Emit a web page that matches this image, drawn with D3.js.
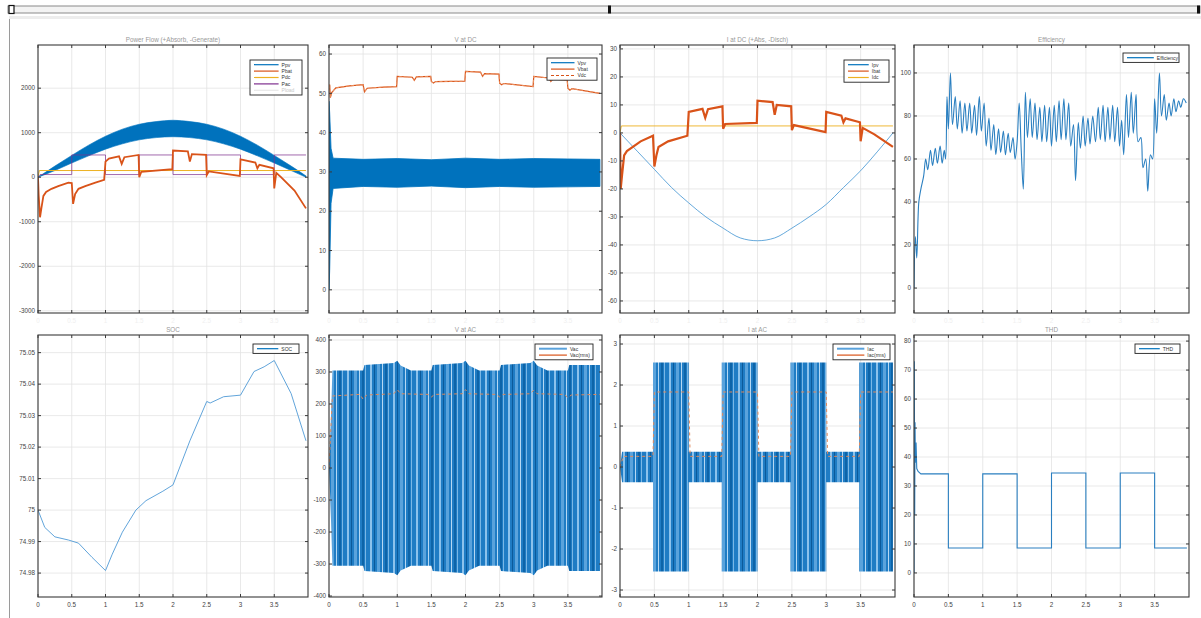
<!DOCTYPE html>
<html><head><meta charset="utf-8">
<script src="https://cdn.jsdelivr.net/npm/d3@7"></script>
<style>body{margin:0;background:#fff;} svg{display:block;font-family:"Liberation Sans",Arial,sans-serif;}</style>
</head><body><svg id="c" width="1201" height="618"></svg>
<script>
// ---------------- DATA ----------------
const xTicks = [0,0.5,1,1.5,2,2.5,3,3.5];
const xTickLabels = ["0","0.5","1","1.5","2","2.5","3","3.5"];

// Panel 1: Power flow
const ppvT     = [0,0.25,0.5,0.75,1,1.25,1.5,1.75,2,2.25,2.5,2.75,3,3.25,3.5,3.75,3.97];
const ppvUpper = [0,250,490,720,920,1080,1190,1250,1280,1250,1190,1080,920,720,490,250,30];
const ppvLower = [0,150,320,480,630,750,840,890,910,890,840,750,630,480,320,150,0];
const pbat = [[0,0],[0.01,-400],[0.03,-900],[0.05,-700],[0.08,-420],[0.12,-330],[0.2,-260],[0.3,-200],[0.45,-120],[0.5,-130],[0.52,-600],[0.55,-380],[0.6,-260],[0.7,-200],[0.85,-120],[0.98,-60],[1.0,350],[1.05,420],[1.2,470],[1.24,300],[1.28,450],[1.49,500],[1.5,0],[1.53,120],[1.99,180],[2.0,600],[2.22,580],[2.25,350],[2.28,520],[2.49,500],[2.5,50],[2.53,130],[2.99,30],[3.0,400],[3.22,330],[3.25,200],[3.28,280],[3.49,200],[3.5,-250],[3.53,100],[3.6,0],[3.8,-300],[3.97,-700]];
const pdc = [[0,0],[0.02,150],[3.97,150]];
const pac = [[0,0],[0.03,60],[0.5,60],[0.5,500],[1.0,500],[1.0,60],[1.5,60],[1.5,500],[2.0,500],[2.0,60],[2.5,60],[2.5,500],[3.0,500],[3.0,60],[3.5,60],[3.5,500],[3.97,500]];
const p1Ticks = [-3000,-2000,-1000,0,1000,2000];

// Panel 2: V at DC
const vpvT     = [0,0.01,0.03,0.06,0.5,1,1.5,2,2.5,3,3.5,3.97];
const vpvUpper = [48,45,36,33.5,33.2,33.4,33.1,33.5,33.2,33.4,33.3,33.2];
const vpvLower = [0,5,22,25.8,26.3,26.1,26.4,26.0,26.3,26.1,26.2,26.3];
const vbat = [[0,50.9],[0.01,52.2],[0.02,48.9],[0.04,50.2],[0.1,51.4],[0.3,51.9],[0.5,52.2],[0.52,50.4],[0.56,51.3],[0.8,51.6],[0.99,51.7],[1.0,54.3],[1.22,54.1],[1.25,53.3],[1.28,54.2],[1.49,54.3],[1.5,53.0],[1.53,52.6],[1.56,53.0],[1.99,53.1],[2.0,55.6],[2.22,55.4],[2.25,54.3],[2.28,55.0],[2.49,54.9],[2.5,52.6],[2.53,52.2],[2.56,52.5],[2.99,51.7],[3.0,54.3],[3.22,53.9],[3.25,53.0],[3.28,53.6],[3.49,53.4],[3.5,51.3],[3.53,50.8],[3.56,51.2],[3.97,50.0]];
const vdc = vbat;
const p2Ticks = [0,10,20,30,40,50,60];

// Panel 3: I at DC
const ipv = [[0,0],[0.25,-6.5],[0.5,-13],[0.75,-19.5],[1,-25],[1.25,-30],[1.5,-34],[1.75,-37.5],[2,-38.5],[2.25,-37.5],[2.5,-34],[2.75,-30],[3,-25.5],[3.25,-19.5],[3.5,-13.5],[3.75,-6.5],[3.97,0]];
const ibat = [[0,0],[0.01,-20],[0.03,-15],[0.06,-8],[0.1,-6.5],[0.3,-3],[0.48,-1],[0.5,-12],[0.53,-8],[0.56,-5],[0.7,-3],[0.98,-1],[1.0,7.5],[1.2,8.6],[1.24,5.4],[1.28,8.5],[1.49,9.5],[1.5,1.5],[1.53,3.2],[1.99,3.6],[2.0,11.5],[2.22,11.0],[2.25,6.5],[2.28,10.0],[2.49,9.5],[2.5,1.0],[2.53,2.8],[2.99,0.3],[3.0,7.5],[3.22,6.2],[3.25,3.8],[3.28,5.2],[3.49,3.8],[3.5,-3],[3.53,1.8],[3.7,-0.5],[3.97,-5]];
const idc = [[0,0],[0.02,2.5],[3.97,2.5]];
const p3Ticks = [-60,-50,-40,-30,-20,-10,0,10,20,30];

// Panel 4: Efficiency
const eff = [[0,0],[0.02,24],[0.04,14],[0.07,40],[0.1,46],[0.14,52],[0.17,60],[0.2,55],[0.24,64],[0.27,57],[0.31,65],[0.34,58],[0.38,66],[0.41,58],[0.44,64],[0.46,60],[0.48,89],[0.5,74],[0.53,100],[0.56,76],[0.6,89],[0.63,74],[0.67,87],[0.7,72],[0.74,86],[0.77,73],[0.81,86],[0.84,72],[0.88,85],[0.91,71],[0.95,89],[0.98,73],[1.02,86],[1.05,66],[1.09,79],[1.12,64],[1.16,76],[1.19,62],[1.23,74],[1.26,63],[1.3,73],[1.33,62],[1.37,72],[1.4,63],[1.44,70],[1.47,60],[1.5,68],[1.53,86],[1.56,64],[1.59,46],[1.62,91],[1.65,70],[1.69,88],[1.72,70],[1.76,86],[1.79,69],[1.83,84],[1.86,68],[1.9,85],[1.93,68],[1.97,84],[2.0,66],[2.04,85],[2.07,68],[2.11,87],[2.14,69],[2.18,88],[2.21,69],[2.25,86],[2.28,66],[2.32,76],[2.35,50],[2.39,77],[2.42,65],[2.46,80],[2.49,66],[2.53,79],[2.56,67],[2.6,80],[2.64,68],[2.68,84],[2.71,69],[2.75,85],[2.78,68],[2.82,84],[2.85,69],[2.89,85],[2.92,68],[2.96,84],[2.99,66],[3.02,78],[3.05,62],[3.09,90],[3.12,70],[3.16,91],[3.19,72],[3.23,90],[3.26,68],[3.3,70],[3.33,56],[3.37,60],[3.4,45],[3.44,62],[3.47,60],[3.5,88],[3.53,72],[3.57,100],[3.6,80],[3.64,90],[3.67,78],[3.71,86],[3.74,80],[3.78,88],[3.81,82],[3.85,87],[3.88,84],[3.92,88],[3.96,86]];
const p4Ticks = [0,20,40,60,80,100];

// Panel 5: SOC
const soc = [[0,75.0],[0.1,74.9945],[0.25,74.9915],[0.45,74.9905],[0.6,74.9895],[0.8,74.985],[1.0,74.9808],[1.1,74.986],[1.25,74.993],[1.45,75.0],[1.6,75.003],[1.85,75.006],[2.0,75.008],[2.25,75.022],[2.5,75.0345],[2.55,75.034],[2.75,75.036],[3.0,75.0365],[3.2,75.044],[3.35,75.0455],[3.5,75.0475],[3.75,75.037],[3.97,75.022]];
const p5Ticks = [74.98,74.99,75.0,75.01,75.02,75.03,75.04,75.05];
const p5TickLabels = ["74.98","74.99","75","75.01","75.02","75.03","75.04","75.05"];

// Panel 6: V at AC
const vacT     = [0,0.02,0.05,0.5,0.52,0.95,1.0,1.05,1.2,1.5,1.52,1.95,2.0,2.05,2.2,2.5,2.52,2.95,3.0,3.05,3.2,3.5,3.52,3.97];
const vacUpper = [0,100,305,305,322,328,335,320,305,305,322,328,335,320,305,305,322,328,335,320,305,305,322,322];
const vacLower = [0,-100,-305,-305,-322,-328,-335,-320,-305,-305,-322,-328,-335,-320,-305,-305,-322,-328,-335,-320,-305,-305,-322,-322];
const vacRms = [[0,0],[0.05,225],[0.45,230],[0.5,215],[0.55,228],[0.95,232],[1.0,245],[1.05,232],[1.45,230],[1.5,222],[1.55,230],[1.95,232],[2.0,245],[2.05,232],[2.45,230],[2.5,222],[2.55,230],[2.95,232],[3.0,243],[3.05,232],[3.45,230],[3.5,220],[3.55,228],[3.97,230]];
const p6Ticks = [-400,-300,-200,-100,0,100,200,300,400];

// Panel 7: I at AC
const iacT     = [0,0.03,0.48,0.48,1.0,1.0,1.48,1.48,2.0,2.0,2.48,2.48,3.0,3.0,3.48,3.48,3.97];
const iacUpper = [0,0.37,0.37,2.55,2.55,0.37,0.37,2.55,2.55,0.37,0.37,2.55,2.55,0.37,0.37,2.55,2.55];
const iacLower = [0,-0.37,-0.37,-2.55,-2.55,-0.37,-0.37,-2.55,-2.55,-0.37,-0.37,-2.55,-2.55,-0.37,-0.37,-2.55,-2.55];
const iacRms = [[0,0],[0.05,0.26],[0.48,0.26],[0.5,1.83],[1.0,1.83],[1.02,0.26],[1.48,0.26],[1.5,1.83],[2.0,1.83],[2.02,0.26],[2.48,0.26],[2.5,1.83],[3.0,1.83],[3.02,0.26],[3.48,0.26],[3.5,1.83],[3.97,1.83]];
const p7Ticks = [-3,-2,-1,0,1,2,3];

// Panel 8: THD
const thd = [[0,0],[0.005,73],[0.01,20],[0.015,52],[0.02,38],[0.03,45],[0.04,36],[0.06,35],[0.1,34.2],[0.5,34.2],[0.5,8.6],[1.0,8.6],[1.0,34.2],[1.5,34.2],[1.5,8.6],[2.0,8.6],[2.0,34.5],[2.5,34.5],[2.5,8.6],[3.0,8.6],[3.0,34.5],[3.5,34.5],[3.5,8.6],[3.97,8.6]];
const p8Ticks = [0,10,20,30,40,50,60,70,80];

// ---------------- STYLE / LAYOUT ----------------
const C = {blue:"#0072BD", orange:"#D95319", yellow:"#EDB120", purple:"#7E2F8E"};
const cols = [[38,308],[329,602],[620,895],[914,1189]];
const rows = [[45,313],[335,597]];

const svg = d3.select("#c");
const defs = svg.append("defs");
const pat = defs.append("pattern").attr("id","stripes").attr("patternUnits","userSpaceOnUse").attr("width",23).attr("height",10);
pat.append("rect").attr("width",23).attr("height",10).attr("fill","#1f7cc4");
[[2,2,"#8cc2ec"],[6,1,"#0b5a9a"],[9,3,"#5aa3dc"],[14,1,"#b5d8f3"],[17,2,"#0d64a8"],[20,1,"#79b7e6"]].forEach(s=>
  pat.append("rect").attr("x",s[0]).attr("width",s[1]).attr("height",10).attr("fill",s[2]));

// top bar / frame
svg.append("rect").attr("x",8).attr("y",6).attr("width",1192).attr("height",7).attr("fill","#f3f3f3").attr("stroke","#8a8a8a").attr("stroke-width",1);
svg.append("rect").attr("x",9).attr("y",5.5).attr("width",5).attr("height",8).attr("fill","#fff").attr("stroke","#111").attr("stroke-width",1.2);
svg.append("rect").attr("x",608).attr("y",5.5).attr("width",3).attr("height",8).attr("fill","#111");
svg.append("rect").attr("x",1197).attr("y",5.5).attr("width",3).attr("height",8).attr("fill","#111");
svg.append("rect").attr("x",9).attr("y",16).attr("width",1192).attr("height",3).attr("fill","#ededed");
svg.append("line").attr("x1",9.5).attr("x2",9.5).attr("y1",19).attr("y2",618).attr("stroke","#9a9a9a").attr("stroke-width",1);

function panel(ci, ri, cfg) {
  const [x0,x1] = cols[ci], [y0,y1] = rows[ri];
  const x = d3.scaleLinear().domain([0,4]).range([x0,x1]);
  const y = d3.scaleLinear().domain(cfg.yDomain).range([y1,y0]);
  const g = svg.append("g");
  const cid = "clip"+ci+ri;
  defs.append("clipPath").attr("id",cid).append("rect").attr("x",x0).attr("y",y0).attr("width",x1-x0).attr("height",y1-y0);
  g.append("rect").attr("x",x0).attr("y",y0).attr("width",x1-x0).attr("height",y1-y0).attr("fill","#fff");
  // grid
  g.selectAll(null).data(xTicks).join("line").attr("x1",d=>x(d)).attr("x2",d=>x(d)).attr("y1",y0).attr("y2",y1).attr("stroke","#e3e3e3").attr("stroke-width",0.8);
  g.selectAll(null).data(cfg.yTicks).join("line").attr("x1",x0).attr("x2",x1).attr("y1",d=>y(d)).attr("y2",d=>y(d)).attr("stroke","#e3e3e3").attr("stroke-width",0.8);
  const pg = g.append("g").attr("clip-path",`url(#${cid})`);
  cfg.draw(pg, x, y);
  // box + ticks
  g.append("rect").attr("x",x0).attr("y",y0).attr("width",x1-x0).attr("height",y1-y0).attr("fill","none").attr("stroke","#3a3a3a").attr("stroke-width",1.1);
  const tk = 3;
  xTicks.forEach(t=>{
    g.append("line").attr("x1",x(t)).attr("x2",x(t)).attr("y1",y1).attr("y2",y1-tk).attr("stroke","#3a3a3a");
    g.append("line").attr("x1",x(t)).attr("x2",x(t)).attr("y1",y0).attr("y2",y0+tk).attr("stroke","#3a3a3a");
  });
  cfg.yTicks.forEach(t=>{
    g.append("line").attr("x1",x0).attr("x2",x0+tk).attr("y1",y(t)).attr("y2",y(t)).attr("stroke","#3a3a3a");
    g.append("line").attr("x1",x1).attr("x2",x1-tk).attr("y1",y(t)).attr("y2",y(t)).attr("stroke","#3a3a3a");
  });
  // labels
  const yl = cfg.yLabels || cfg.yTicks.map(String);
  g.selectAll(null).data(cfg.yTicks).join("text").attr("x",x0-3).attr("y",d=>y(d)+2.2).attr("text-anchor","end")
    .attr("font-size",6.3).attr("fill","#444").text((d,i)=>yl[i]);
  g.selectAll(null).data(xTicks).join("text").attr("x",d=>x(d)).attr("y",y1+10).attr("text-anchor","middle")
    .attr("font-size",6.3).attr("fill", ri===0 ? "#efefef" : "#444").text((d,i)=>xTickLabels[i]);
  g.append("text").attr("x",(x0+x1)/2).attr("y",y0-3).attr("text-anchor","middle").attr("font-size",6.3).attr("fill","#999").text(cfg.title);
  // legend
  const L = cfg.legend, rowH = 6.4;
  const lw = L.w, lh = L.items.length*rowH + 3;
  const lx = x1 - L.right - lw, ly = y0 + L.top;
  const lg = g.append("g");
  lg.append("rect").attr("x",lx).attr("y",ly).attr("width",lw).attr("height",lh).attr("fill","#fff").attr("stroke","#222").attr("stroke-width",0.9);
  L.items.forEach((it,i)=>{
    const yy = ly + 1.5 + rowH*(i+0.5);
    lg.append("line").attr("x1",lx+4).attr("x2",lx+lw*0.55).attr("y1",yy).attr("y2",yy).attr("stroke",it.c).attr("stroke-width",it.w||1.2).attr("stroke-dasharray",it.dash||null);
    lg.append("text").attr("x",lx+lw*0.55+3).attr("y",yy+1.8).attr("font-size",5).attr("fill",it.tc||"#333").text(it.l);
  });
}
const line = (x,y)=>d3.line().x(d=>x(d[0])).y(d=>y(d[1]));
const band = (x,y)=>d3.area().x(d=>x(d[0])).y0(d=>y(d[2])).y1(d=>y(d[1]));
const zip = (t,a,b)=>t.map((v,i)=>[v,a[i],b[i]]);

panel(0,0,{title:"Power Flow (+Absorb, -Generate)", yDomain:[-3050,2970], yTicks:p1Ticks,
  legend:{w:52,right:6,top:15,items:[{l:"Ppv",c:C.blue},{l:"Pbat",c:C.orange},{l:"Pdc",c:C.yellow},{l:"Pac",c:C.purple},{l:"Pload",c:"#e8e8e8",tc:"#c8c8c8"}]},
  draw:(g,x,y)=>{
    g.append("path").datum(zip(ppvT,ppvUpper,ppvLower)).attr("d",band(x,y).curve(d3.curveMonotoneX)).attr("fill",C.blue).attr("stroke",C.blue).attr("stroke-width",0.6);
    g.append("path").datum(pdc).attr("d",line(x,y)).attr("fill","none").attr("stroke",C.yellow).attr("stroke-width",1);
    g.append("path").datum(pac).attr("d",line(x,y)).attr("fill","none").attr("stroke",C.purple).attr("stroke-width",0.9).attr("opacity",0.8);
    g.append("path").datum(pbat).attr("d",line(x,y)).attr("fill","none").attr("stroke",C.orange).attr("stroke-width",1.8);
  }});

panel(1,0,{title:"V at DC", yDomain:[-5.9,62.3], yTicks:p2Ticks,
  legend:{w:50,right:5,top:13,items:[{l:"Vpv",c:C.blue},{l:"Vbat",c:C.orange},{l:"Vdc",c:C.orange,dash:"3,2"}]},
  draw:(g,x,y)=>{
    g.append("path").datum(zip(vpvT,vpvUpper,vpvLower)).attr("d",band(x,y)).attr("fill",C.blue).attr("stroke",C.blue).attr("stroke-width",0.8);
    g.append("path").datum(vbat).attr("d",line(x,y)).attr("fill","none").attr("stroke",C.orange).attr("stroke-width",1.2);
    g.append("path").datum(vdc).attr("d",line(x,y)).attr("fill","none").attr("stroke","#f0a070").attr("stroke-width",0.8).attr("stroke-dasharray","3,2");
  }});

panel(2,0,{title:"I at DC (+Abs, -Disch)", yDomain:[-64.3,31.4], yTicks:p3Ticks,
  legend:{w:45,right:6,top:15,items:[{l:"Ipv",c:C.blue},{l:"Ibat",c:C.orange},{l:"Idc",c:C.yellow}]},
  draw:(g,x,y)=>{
    g.append("path").datum(ipv).attr("d",line(x,y).curve(d3.curveMonotoneX)).attr("fill","none").attr("stroke","#3f93d2").attr("stroke-width",0.8);
    g.append("path").datum(idc).attr("d",line(x,y)).attr("fill","none").attr("stroke",C.yellow).attr("stroke-width",0.9);
    g.append("path").datum(ibat).attr("d",line(x,y)).attr("fill","none").attr("stroke",C.orange).attr("stroke-width",2.2);
  }});

panel(3,0,{title:"Efficiency", yDomain:[-11.6,113], yTicks:p4Ticks,
  legend:{w:56,right:10,top:8,items:[{l:"Efficiency",c:C.blue}]},
  draw:(g,x,y)=>{
    g.append("path").datum(eff).attr("d",line(x,y).curve(d3.curveCatmullRom.alpha(0.5))).attr("fill","none").attr("stroke","#2a7fc0").attr("stroke-width",1.1);
  }});

panel(0,1,{title:"SOC", yDomain:[74.9724,75.0556], yTicks:p5Ticks, yLabels:p5TickLabels,
  legend:{w:46,right:9,top:9,items:[{l:"SOC",c:C.blue}]},
  draw:(g,x,y)=>{
    g.append("path").datum(soc).attr("d",line(x,y)).attr("fill","none").attr("stroke","#4f9ad6").attr("stroke-width",0.9);
  }});

panel(1,1,{title:"V at AC", yDomain:[-403,415.6], yTicks:p6Ticks,
  legend:{w:58,right:9,top:9,items:[{l:"Vac",c:"#5aa2dc",w:2},{l:"Vac(rms)",c:C.orange}]},
  draw:(g,x,y)=>{
    g.append("path").datum(zip(vacT,vacUpper,vacLower)).attr("d",band(x,y)).attr("fill","url(#stripes)");
    g.append("path").datum(vacRms).attr("d",line(x,y)).attr("fill","none").attr("stroke","#e0885a").attr("stroke-width",1).attr("stroke-dasharray","3,3");
  }});

panel(2,1,{title:"I at AC", yDomain:[-3.17,3.22], yTicks:p7Ticks,
  legend:{w:57,right:5,top:9,items:[{l:"Iac",c:"#5aa2dc",w:2},{l:"Iac(rms)",c:C.orange}]},
  draw:(g,x,y)=>{
    g.append("path").datum(zip(iacT,iacUpper,iacLower)).attr("d",band(x,y)).attr("fill","url(#stripes)");
    g.append("path").datum(iacRms).attr("d",line(x,y)).attr("fill","none").attr("stroke","#e0885a").attr("stroke-width",1).attr("stroke-dasharray","3,3");
  }});

panel(3,1,{title:"THD", yDomain:[-8.3,82.1], yTicks:p8Ticks,
  legend:{w:45,right:9,top:9,items:[{l:"THD",c:C.blue}]},
  draw:(g,x,y)=>{
    g.append("path").datum(thd).attr("d",line(x,y)).attr("fill","none").attr("stroke","#2a7fc0").attr("stroke-width",1.1);
  }});
</script></body></html>
